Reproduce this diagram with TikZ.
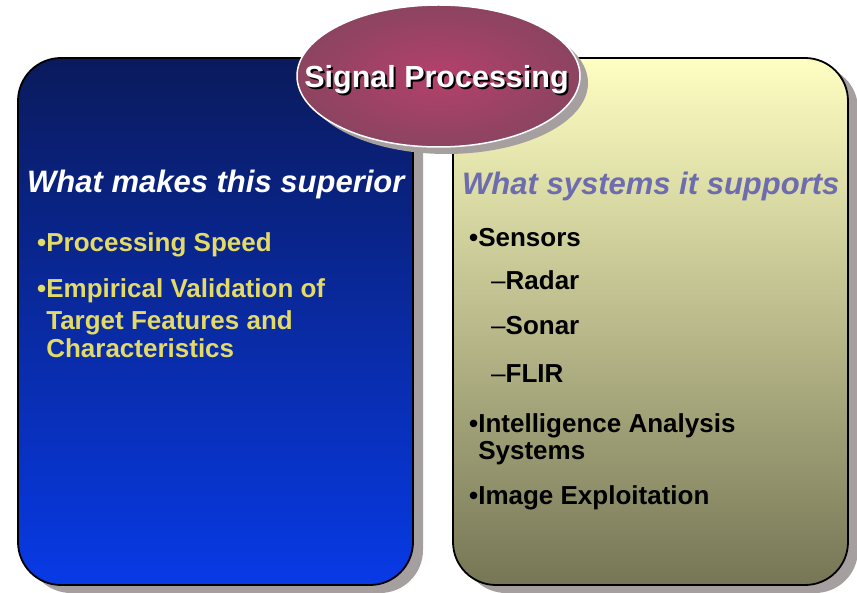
\documentclass[tikz,border=0pt]{standalone}
\usepackage{fontspec}
\setmainfont{Liberation Sans}
\usetikzlibrary{shapes.geometric,shadows}

\definecolor{navytop}{HTML}{0A1A5C}
\definecolor{navymid}{HTML}{0C2A9C}
\definecolor{bluebot}{HTML}{083AE6}
\definecolor{paletop}{HTML}{FFFFC2}
\definecolor{palemid}{HTML}{CDCD96}
\definecolor{olivebot}{HTML}{767656}
\definecolor{shadowgrey}{HTML}{A59F9F}
\definecolor{plumin}{HTML}{B4406C}
\definecolor{plumout}{HTML}{8C4460}
\definecolor{itemyellow}{HTML}{E4DA66}
\definecolor{headslate}{HTML}{6C6CAE}

\tikzset{
  panelbox/.style={rectangle, draw=black, line width=1.8pt, rounded corners=43pt,
    minimum width=395pt, minimum height=527pt, inner sep=0pt,
    drop shadow={shadow xshift=10pt, shadow yshift=-8pt, fill=shadowgrey, opacity=1}},
  headtext/.style={anchor=base west, inner sep=0pt, font=\fontsize{31}{37}\selectfont\bfseries\itshape},
  itemtext/.style={anchor=base west, inner sep=0pt, font=\fontsize{26}{31}\selectfont\bfseries},
  titletext/.style={anchor=base, inner sep=0pt, font=\fontsize{30.5}{36}\selectfont\bfseries}
}

\begin{document}
\begin{tikzpicture}[x=1pt, y=-1pt]
  \useasboundingbox (0,0) rectangle (857,593);

  % the two panels
  \node[panelbox, top color=navytop, middle color=navymid, bottom color=bluebot] (leftpanel) at (215.5,321.5) {};
  \node[panelbox, top color=paletop, middle color=palemid, bottom color=olivebot] (rightpanel) at (650.5,321.5) {};

  % title ellipse
  \node[ellipse, draw=white, line width=1.5pt, minimum width=283pt, minimum height=142pt, inner sep=0pt,
        inner color=plumin, outer color=plumout,
        drop shadow={shadow xshift=8pt, shadow yshift=-7pt, fill=shadowgrey, opacity=1}] (titleoval) at (438.5,76) {};
  \node[titletext, text=black] (titleshadow) at (438.5,89.5) {Signal Processing};
  \node[titletext, text=white] (title) at (436.5,87.5) {Signal Processing};

  % left panel text
  \node[headtext, text=white] (lefthead) at (27,193) {What makes this superior};
  \node[itemtext, text=itemyellow] (l1) at (37,252) {•Processing Speed};
  \node[itemtext, text=itemyellow] (l2) at (37,298) {•Empirical Validation of};
  \node[itemtext, text=itemyellow] (l2b) at (37,330) {\hphantom{•}Target Features and};
  \node[itemtext, text=itemyellow] (l2c) at (37,358) {\hphantom{•}Characteristics};

  % right panel text
  \node[headtext, text=headslate] (righthead) at (462,195) {What systems it supports};
  \node[itemtext] (r1) at (469,247) {•Sensors};
  \node[itemtext] (r1a) at (491,290) {{\mdseries –}Radar};
  \node[itemtext] (r1b) at (491,335) {{\mdseries –}Sonar};
  \node[itemtext] (r1c) at (491,383) {{\mdseries –}FLIR};
  \node[itemtext] (r2) at (469,432) {•Intelligence Analysis};
  \node[itemtext] (r2b) at (469,460) {\hphantom{•}Systems};
  \node[itemtext] (r3) at (469,504) {•Image Exploitation};
\end{tikzpicture}
\end{document}
